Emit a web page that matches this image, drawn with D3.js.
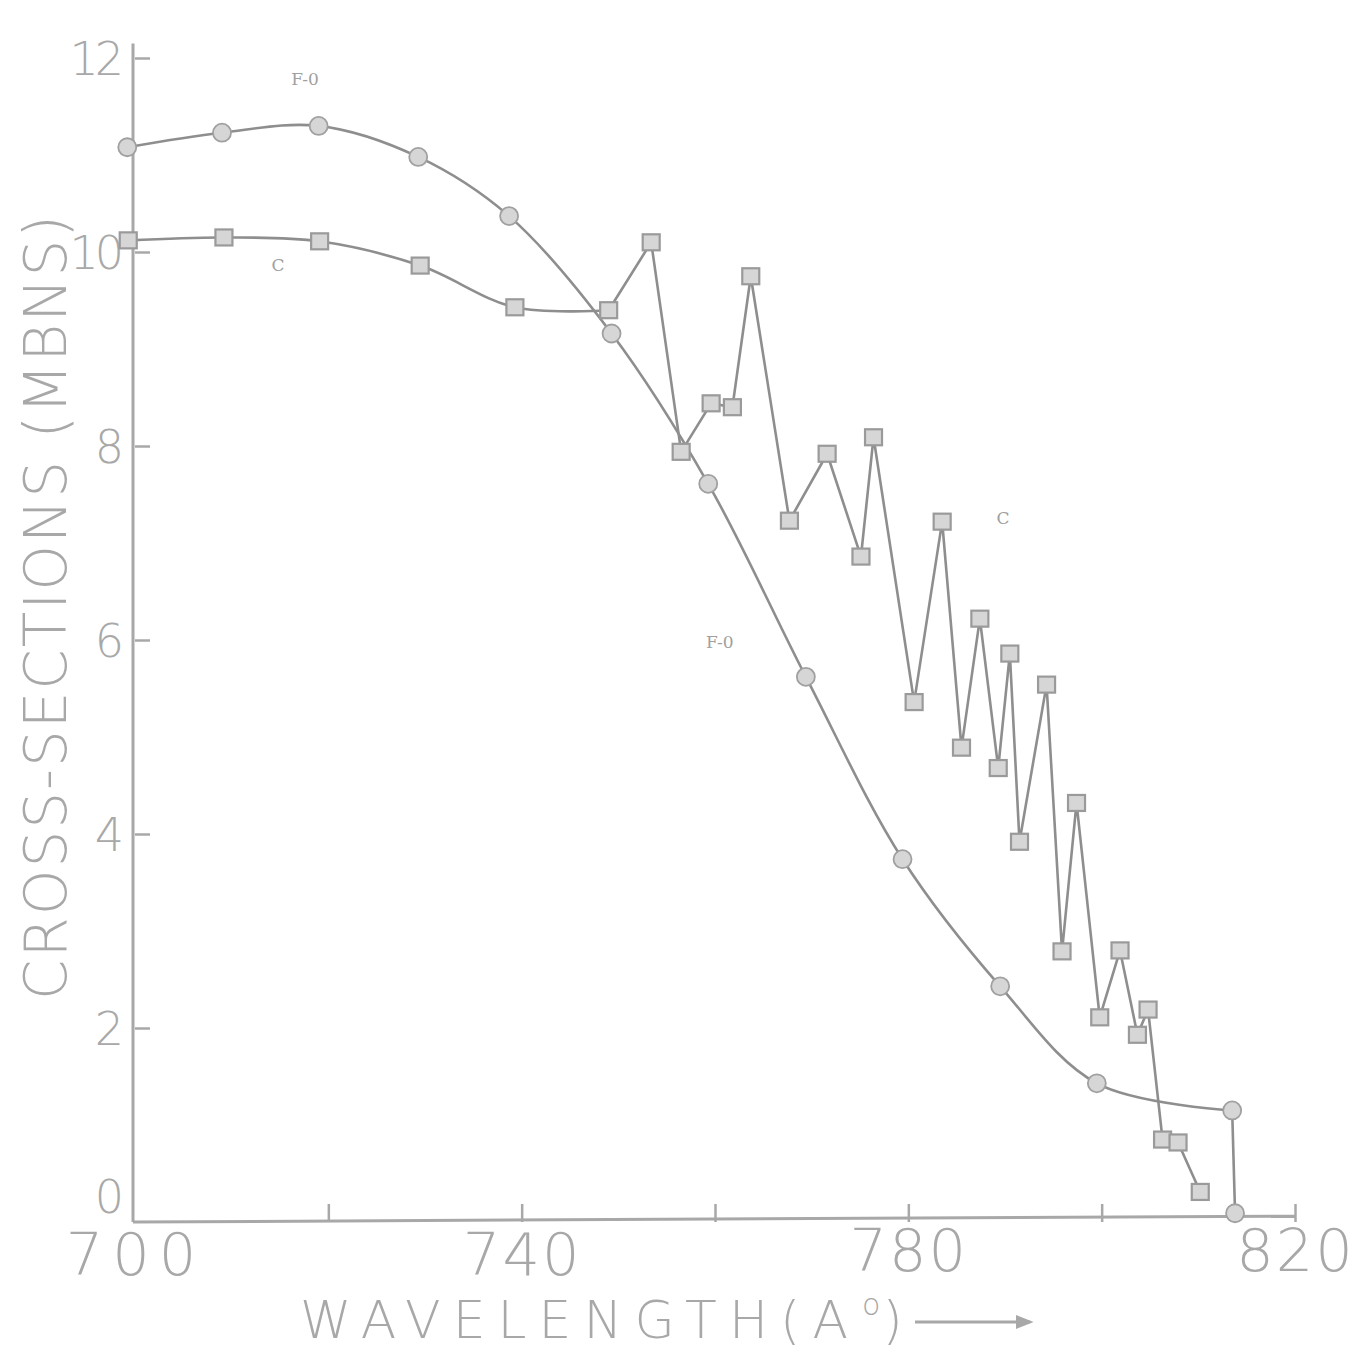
<!DOCTYPE html>
<html>
<head>
<meta charset="utf-8">
<script src="https://cdn.jsdelivr.net/npm/d3@7"></script>
<style>
  html, body { margin: 0; padding: 0; background: #fff; }
  svg { display: block; }
  .tick text { font-family: "DejaVu Sans", sans-serif; font-weight: 200; fill: #a8a8a8; }
</style>
</head>
<body>
<div id="chart"></div>
<script>
const WIDTH = 1358, HEIGHT = 1351;

// F-0 series (circles): smooth curve, then vertical drop at the end
const f0Wave = [699.2, 709, 719, 729.3, 738.7, 749.3, 759.3, 769.4, 779.4, 789.5, 799.5, 813.5, 813.8];
const f0Sigma = [11.08, 11.23, 11.30, 10.98, 10.37, 9.16, 7.61, 5.62, 3.74, 2.43, 1.43, 1.15, 0.09];

// C series (squares): smooth up to 749, then point-to-point
const cWave = [699.3, 709.2, 719.1, 729.5, 739.3, 749.0, 753.4, 756.5, 759.6, 761.8, 763.7, 767.7,
  771.6, 775.1, 776.4, 780.6, 783.5, 785.5, 787.4, 789.3, 790.5, 791.5, 794.3, 795.9, 797.4,
  799.8, 801.9, 803.7, 804.8, 806.3, 807.9, 810.2];
const cSigma = [10.12, 10.15, 10.11, 9.86, 9.43, 9.40, 10.10, 7.94, 8.44, 8.40, 9.75, 7.23,
  7.92, 6.86, 8.09, 5.36, 7.22, 4.89, 6.22, 4.68, 5.86, 3.92, 5.54, 2.79, 4.32,
  2.11, 2.80, 1.93, 2.19, 0.85, 0.82, 0.31];

const xTicks = [700, 720, 740, 760, 780, 800, 820];
const xTickLabels = ["700", "", "740", "", "780", "", "820"];
const yTicks = [0, 2, 4, 6, 8, 10, 12];

const notes = [
  { text: "F-0", x: 717.6, y: 11.72 },
  { text: "C", x: 714.8, y: 9.8 },
  { text: "C", x: 789.8, y: 7.2 },
  { text: "F-0", x: 760.5, y: 5.92 }
];

const LINE = "#8e8e8e", FAINT = "#a8a8a8", MARK = "#d6d6d6";

const svg = d3.select("#chart").append("svg")
  .attr("width", WIDTH)
  .attr("height", HEIGHT);

const x = d3.scaleLinear().domain([700, 820]).range([135, 1295]);
const y = d3.scaleLinear().domain([0, 12]).range([1222, 58]);

// stretch a text to a given length with letter-spacing
function spreadTo(sel, target) {
  const node = sel.node();
  const n = node.textContent.length;
  const natural = node.getComputedTextLength();
  sel.attr("letter-spacing", (target - natural) / Math.max(n - 1, 1));
}

// axes
const yAxis = svg.append("g")
  .attr("transform", `translate(${x(700)},0)`)
  .call(d3.axisLeft(y).tickValues(yTicks).tickSize(-15).tickPadding(15).tickFormat(d3.format("d")));
yAxis.select(".domain").remove();
yAxis.selectAll(".tick line").attr("stroke", FAINT).attr("stroke-width", 2.5)
  .filter(d => d === 0).remove();
yAxis.selectAll(".tick text").attr("font-size", 46).attr("letter-spacing", -4).attr("dy", "0.36em");
yAxis.selectAll(".tick text").filter(d => d === 0).attr("dy", "-0.2em");

const xAxis = svg.append("g")
  .attr("transform", `translate(0,${y(0)})`)
  .call(d3.axisBottom(x).tickValues(xTicks).tickSize(-18).tickPadding(11)
    .tickFormat((d, i) => xTickLabels[i]));
xAxis.select(".domain").remove();
xAxis.selectAll(".tick line").attr("stroke", FAINT).attr("stroke-width", 2.5)
  .filter(d => d === 700).remove();
xAxis.selectAll(".tick text").attr("font-size", 59)
  .attr("letter-spacing", d => d === 700 ? 9 : 2)
  .attr("dy", d => d >= 780 ? "0.64em" : "0.71em");

// axis lines (drawn by hand in the original, go a bit above 12)
svg.append("line")
  .attr("x1", x(700) - 2).attr("x2", x(700) - 2)
  .attr("y1", y(12.15)).attr("y2", y(0))
  .attr("stroke", FAINT).attr("stroke-width", 3);
svg.append("line")
  .attr("x1", x(700) - 2).attr("x2", x(820))
  .attr("y1", y(0)).attr("y2", y(0.06))
  .attr("stroke", FAINT).attr("stroke-width", 3);

// axis titles
const titleFont = sel => sel
  .attr("font-family", "DejaVu Sans, sans-serif")
  .attr("font-weight", 200)
  .attr("fill", FAINT);

const xTitle = svg.append("text")
  .attr("x", 300).attr("y", 1338)
  .attr("font-size", 52)
  .call(titleFont)
  .text("WAVELENGTH(A");
spreadTo(xTitle, 548);
const xEnd = 300 + xTitle.node().getBBox().width;
const degree = svg.append("text")
  .attr("x", xEnd + 2).attr("y", 1315)
  .attr("font-size", 30)
  .call(titleFont)
  .text("o");
svg.append("text")
  .attr("x", xEnd + 4 + degree.node().getBBox().width).attr("y", 1338)
  .attr("font-size", 52)
  .call(titleFont)
  .text(")");

svg.append("defs").append("marker")
  .attr("id", "arrow")
  .attr("viewBox", "0 0 10 10")
  .attr("refX", 8).attr("refY", 5)
  .attr("markerWidth", 6).attr("markerHeight", 6)
  .attr("orient", "auto")
  .append("path").attr("d", "M0,1 L10,5 L0,9 Z").attr("fill", FAINT);

svg.append("line")
  .attr("x1", 915).attr("x2", 1030)
  .attr("y1", 1322).attr("y2", 1322)
  .attr("stroke", FAINT).attr("stroke-width", 3)
  .attr("marker-end", "url(#arrow)");

const yTitle = svg.append("text")
  .attr("transform", "translate(66,1000) rotate(-90)")
  .attr("font-size", 58)
  .call(titleFont)
  .text("CROSS-SECTIONS (MBNS)");
spreadTo(yTitle, 785);

// series
const f0 = f0Wave.map((w, i) => ({ w, s: f0Sigma[i] }));
const cs = cWave.map((w, i) => ({ w, s: cSigma[i] }));

const smooth = d3.line().x(d => x(d.w)).y(d => y(d.s)).curve(d3.curveCatmullRom.alpha(0.5));
const straight = d3.line().x(d => x(d.w)).y(d => y(d.s));

function drawSeries(data, splitAt) {
  svg.append("path")
    .attr("d", smooth(data.slice(0, splitAt + 1)))
    .attr("fill", "none").attr("stroke", LINE).attr("stroke-width", 2.6);
  svg.append("path")
    .attr("d", straight(data.slice(splitAt)))
    .attr("fill", "none").attr("stroke", LINE).attr("stroke-width", 2.6)
    .attr("stroke-linejoin", "round");
}

drawSeries(f0, 11);
drawSeries(cs, 5);

svg.append("g").selectAll("rect")
  .data(cs)
  .join("rect")
  .attr("x", d => x(d.w) - 8.5)
  .attr("y", d => y(d.s) - 8)
  .attr("width", 17).attr("height", 16)
  .attr("fill", MARK)
  .attr("stroke", "#9a9a9a").attr("stroke-width", 2.2);

svg.append("g").selectAll("circle")
  .data(f0)
  .join("circle")
  .attr("cx", d => x(d.w))
  .attr("cy", d => y(d.s))
  .attr("r", 9)
  .attr("fill", MARK)
  .attr("stroke", "#a0a0a0").attr("stroke-width", 1.8);

// curve annotations
svg.append("g").selectAll("text")
  .data(notes)
  .join("text")
  .attr("x", d => x(d.x))
  .attr("y", d => y(d.y))
  .attr("text-anchor", "middle")
  .attr("font-family", "DejaVu Serif, serif")
  .attr("font-size", 17)
  .attr("fill", "#a0a0a0")
  .text(d => d.text);
</script>
</body>
</html>
